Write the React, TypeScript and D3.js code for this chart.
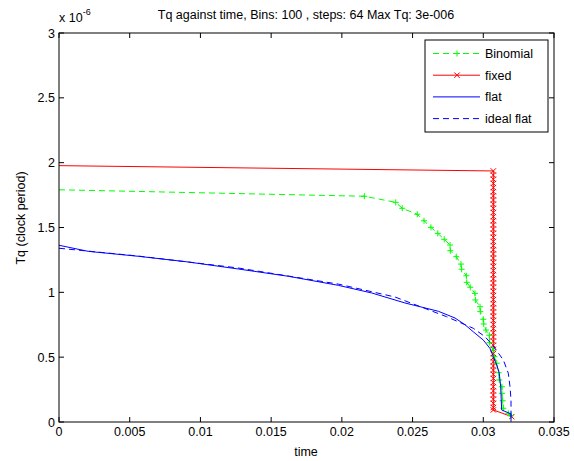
import React from 'react';
import * as d3 from 'd3';

// time values (s) and Tq values (x 1e-6 clock period)
const binomialT = [0, 0.02159, 0.02381, 0.02427, 0.02533, 0.02581, 0.0263, 0.02678, 0.02724, 0.02765, 0.02767, 0.02809, 0.02842, 0.02847, 0.0288, 0.02883, 0.02908, 0.02941, 0.02944, 0.02977, 0.02979, 0.03, 0.03003, 0.03019, 0.03043, 0.03045, 0.03071, 0.03078, 0.03095, 0.03109, 0.03113, 0.03132, 0.03132, 0.03137, 0.03142, 0.03177, 0.03196];
const binomialV = [1.791, 1.741, 1.694, 1.648, 1.602, 1.552, 1.501, 1.455, 1.409, 1.365, 1.321, 1.275, 1.218, 1.178, 1.128, 1.077, 1.039, 0.992, 0.941, 0.889, 0.851, 0.792, 0.756, 0.709, 0.669, 0.612, 0.555, 0.504, 0.453, 0.38, 0.324, 0.272, 0.221, 0.164, 0.106, 0.067, 0.049];

const fixedV = [1.977, 1.936, 1.904, 1.872, 1.84, 1.808, 1.776, 1.744, 1.712, 1.68, 1.648, 1.616, 1.584, 1.552, 1.52, 1.488, 1.456, 1.424, 1.392, 1.36, 1.328, 1.296, 1.264, 1.232, 1.2, 1.168, 1.136, 1.104, 1.072, 1.04, 1.008, 0.976, 0.944, 0.912, 0.88, 0.848, 0.816, 0.784, 0.752, 0.72, 0.688, 0.656, 0.624, 0.592, 0.56, 0.528, 0.496, 0.464, 0.432, 0.4, 0.368, 0.336, 0.304, 0.272, 0.24, 0.208, 0.176, 0.144, 0.112, 0.093, 0.041];
const fixedT = fixedV.map((_, i) => (i === 0 ? 0 : i === fixedV.length - 1 ? 0.03201 : 0.03071));

const flatT = [0, 0.00207, 0.00561, 0.00914, 0.01268, 0.01621, 0.01975, 0.02211, 0.02446, 0.02682, 0.028, 0.02871, 0.02929, 0.03, 0.03047, 0.03071, 0.03095, 0.03113, 0.03123, 0.0313, 0.03196, 0.03196];
const flatV = [1.363, 1.316, 1.278, 1.234, 1.18, 1.124, 1.054, 0.995, 0.918, 0.854, 0.802, 0.75, 0.696, 0.632, 0.568, 0.504, 0.44, 0.376, 0.272, 0.093, 0.062, 0.002];

const idealT = [0, 0.00559, 0.01266, 0.01973, 0.02376, 0.02741, 0.02929, 0.03012, 0.03071, 0.03142, 0.03177, 0.03189, 0.03196, 0.03196];
const idealV = [1.34, 1.28, 1.188, 1.064, 0.964, 0.812, 0.723, 0.658, 0.586, 0.478, 0.376, 0.272, 0.17, 0.041];

const xTicks = [0, 0.005, 0.01, 0.015, 0.02, 0.025, 0.03, 0.035];
const yTicks = [0, 0.5, 1, 1.5, 2, 2.5, 3];
const legendNames = ['Binomial', 'fixed', 'flat', 'ideal flat'];

const W = 574;
const H = 461;
const left = 59, right = 554, top = 33, bottom = 422;
const font = 'Liberation Sans, Arial, sans-serif';

export default function App() {
  const x = d3.scaleLinear().domain([0, 0.035]).range([left, right]);
  const y = d3.scaleLinear().domain([0, 3]).range([bottom, top]);
  const line = d3.line<[number, number]>().x(d => x(d[0])).y(d => y(d[1]));

  const zip = (t: number[], v: number[]) => t.map((tt, i) => [tt, v[i]] as [number, number]);
  const binomial = zip(binomialT, binomialV);
  const fixed = zip(fixedT, fixedV);
  const flat = zip(flatT, flatV);
  const ideal = zip(idealT, idealV);

  const plus = (cx: number, cy: number, k: string) => (
    <path key={k} d={`M${cx - 3},${cy}H${cx + 3}M${cx},${cy - 3}V${cy + 3}`} stroke="#00ff00" strokeWidth={1} fill="none" />
  );
  const cross = (cx: number, cy: number, k: string) => (
    <path key={k} d={`M${cx - 2.7},${cy - 2.7}L${cx + 2.7},${cy + 2.7}M${cx - 2.7},${cy + 2.7}L${cx + 2.7},${cy - 2.7}`} stroke="#ff0000" strokeWidth={1} fill="none" />
  );

  const legendRows = [
    { stroke: '#00ff00', dash: '6,4', marker: 'plus' },
    { stroke: '#ff0000', dash: undefined, marker: 'cross' },
    { stroke: '#0000ff', dash: undefined, marker: null },
    { stroke: '#0000ff', dash: '6,4', marker: null },
  ];

  return (
    <svg width={W} height={H} style={{ position: 'absolute', left: 0, top: 0, background: '#fff' }} fontFamily={font}>
      <rect x={0} y={0} width={W} height={H} fill="#fff" />
      <defs>
        <clipPath id="plot">
          <rect x={left} y={top - 6} width={right - left + 6} height={bottom - top + 6} />
        </clipPath>
      </defs>

      <g clipPath="url(#plot)">
        <path d={line(fixed) || ''} fill="none" stroke="#ff0000" strokeWidth={1} />
        {fixed.slice(1).map((d, i) => cross(x(d[0]), y(d[1]), 'f' + i))}
        <path d={line(binomial) || ''} fill="none" stroke="#00ff00" strokeWidth={1} strokeDasharray="6,4" />
        {binomial.slice(1).map((d, i) => plus(x(d[0]), y(d[1]), 'b' + i))}
        <path d={line(ideal) || ''} fill="none" stroke="#0000ff" strokeWidth={1} strokeDasharray="6,4" />
        <path d={line(flat) || ''} fill="none" stroke="#0000ff" strokeWidth={1} />
      </g>

      {/* axes box */}
      <rect x={left} y={top} width={right - left} height={bottom - top} fill="none" stroke="#000" strokeWidth={1} />
      {xTicks.map(t => (
        <g key={'x' + t}>
          <line x1={x(t)} x2={x(t)} y1={bottom} y2={bottom - 5} stroke="#000" />
          <line x1={x(t)} x2={x(t)} y1={top} y2={top + 5} stroke="#000" />
          <text x={x(t)} y={436} textAnchor="middle" fontSize={12.5}>{String(t)}</text>
        </g>
      ))}
      {yTicks.map(v => (
        <g key={'y' + v}>
          <line x1={left} x2={left + 5} y1={y(v)} y2={y(v)} stroke="#000" />
          <line x1={right} x2={right - 5} y1={y(v)} y2={y(v)} stroke="#000" />
          <text x={55} y={y(v) + 4.5} textAnchor="end" fontSize={12.5}>{String(v)}</text>
        </g>
      ))}

      <text x={59} y={22} fontSize={12.5}>x 10<tspan dy={-7} fontSize={9}>-6</tspan></text>
      <text x={306} y={19} textAnchor="middle" fontSize={12.5}>Tq against time, Bins: 100 , steps: 64 Max Tq: 3e-006</text>
      <text x={306} y={456} textAnchor="middle" fontSize={12.5}>time</text>
      <text transform="translate(25,218) rotate(-90)" textAnchor="middle" fontSize={12.5}>Tq (clock period)</text>

      {/* legend */}
      <rect x={425} y={40} width={123} height={92} fill="#fff" stroke="#000" strokeWidth={1} />
      {legendNames.map((name, i) => {
        const ly = 53.5 + i * 21.7;
        const r = legendRows[i];
        return (
          <g key={name}>
            <line x1={433} x2={480} y1={ly} y2={ly} stroke={r.stroke} strokeDasharray={r.dash} />
            {r.marker === 'plus' && plus(457, ly, 'lp')}
            {r.marker === 'cross' && cross(457, ly, 'lc')}
            <text x={485} y={ly + 4.5} fontSize={12.5}>{name}</text>
          </g>
        );
      })}
    </svg>
  );
}
